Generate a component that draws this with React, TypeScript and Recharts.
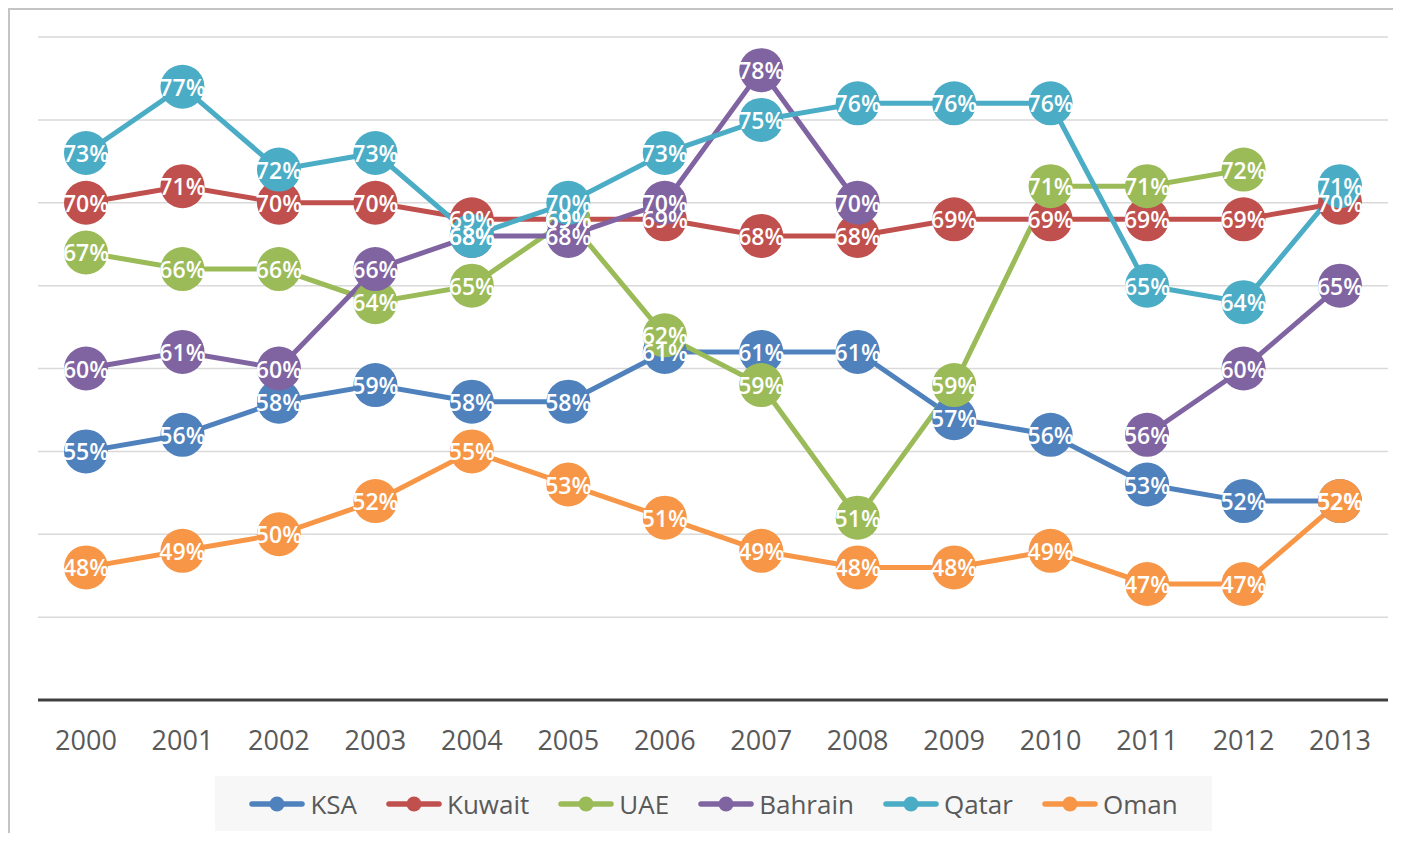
import {
  ComposedChart,
  Line,
  XAxis,
  YAxis,
  CartesianGrid,
  Legend,
  LabelList,
} from "recharts";

const years = ["2000", "2001", "2002", "2003", "2004", "2005", "2006", "2007", "2008", "2009", "2010", "2011", "2012", "2013"];
const ksa = [55, 56, 58, 59, 58, 58, 61, 61, 61, 57, 56, 53, 52, 52];
const kuwait = [70, 71, 70, 70, 69, 69, 69, 68, 68, 69, 69, 69, 69, 70];
const uae = [67, 66, 66, 64, 65, 69, 62, 59, 51, 59, 71, 71, 72, null];
const bahrain = [60, 61, 60, 66, 68, 68, 70, 78, 70, null, null, 56, 60, 65];
const qatar = [73, 77, 72, 73, 68, 70, 73, 75, 76, 76, 76, 65, 64, 71];
const oman = [48, 49, 50, 52, 55, 53, 51, 49, 48, 48, 49, 47, 47, 52];
const yTicks = [40, 45, 50, 55, 60, 65, 70, 75, 80];

const series = [
  { key: "KSA", values: ksa, color: "#4F81BD" },
  { key: "Kuwait", values: kuwait, color: "#C0504D" },
  { key: "UAE", values: uae, color: "#9BBB59" },
  { key: "Bahrain", values: bahrain, color: "#8064A2" },
  { key: "Qatar", values: qatar, color: "#4BACC6" },
  { key: "Oman", values: oman, color: "#F79646" },
];
const seriesOrder = series.map(s => s.key);

const data = years.map((year, i) => {
  const row: Record<string, string | number | null> = { year };
  series.forEach(s => { row[s.key] = s.values[i]; });
  return row;
});

const FONT = "'Open Sans', 'Noto Sans', sans-serif";

const renderLabel = (props: any) => {
  const { x, y, value } = props;
  if (value == null || x == null || y == null) return null;
  return (
    <text
      x={x}
      y={y}
      textAnchor="middle"
      dominantBaseline="central"
      fill="#ffffff"
      fontSize={23}
      fontWeight={600}
      fontFamily={FONT}
    >
      {value}%
    </text>
  );
};

const renderLegend = (props: any) => {
  const items = (props.payload || [])
    .filter((p: any) => p.type !== "none")
    .sort((a: any, b: any) => seriesOrder.indexOf(a.value) - seriesOrder.indexOf(b.value));
  return (
    <div
      style={{
        width: 997,
        height: 55,
        background: "#f7f7f7",
        display: "flex",
        alignItems: "center",
        justifyContent: "center",
        gap: 29,
        fontFamily: FONT,
        fontSize: 26,
        color: "#595959",
      }}
    >
      {items.map((it: any) => (
        <div key={it.value} style={{ display: "flex", alignItems: "center" }}>
          <svg width={56} height={16} style={{ marginRight: 5 }}>
            <line x1={3} y1={8} x2={53} y2={8} stroke={it.color} strokeWidth={5.5} strokeLinecap="round" />
            <circle cx={28} cy={8} r={7.5} fill={it.color} />
          </svg>
          <span>{it.value}</span>
        </div>
      ))}
    </div>
  );
};

export default function App() {
  return (
    <div
      style={{
        width: 1383,
        height: 823,
        borderTop: "2px solid #c4c4c4",
        borderLeft: "2px solid #c4c4c4",
        fontFamily: FONT,
      }}
    >
      <ComposedChart width={1383} height={823} data={data} margin={{ top: 27, right: 5, left: 28, bottom: 2 }}>
        <CartesianGrid vertical={false} stroke="#d9d9d9" strokeWidth={1.5} />
        <XAxis
          dataKey="year"
          padding={{ left: 48, right: 48 }}
          axisLine={{ stroke: "#404040", strokeWidth: 3 }}
          tickLine={false}
          tickSize={0}
          tickMargin={31}
          height={76}
          interval={0}
          tick={{ fill: "#595959", fontSize: 27, fontFamily: FONT }}
        />
        <YAxis hide type="number" domain={[40, 80]} ticks={yTicks} />
        <Legend
          verticalAlign="bottom"
          content={renderLegend}
          wrapperStyle={{ left: 205, bottom: 2, width: 997, height: 55 }}
        />

        {series.map(s => (
          <Line
            key={s.key}
            dataKey={s.key}
            name={s.key}
            stroke={s.color}
            strokeWidth={5}
            dot={{ r: 22, fill: s.color, stroke: s.color, strokeWidth: 0 }}
            activeDot={false}
            isAnimationActive={false}
          />
        ))}

        {/* labels drawn last so they sit above every marker, as in the original */}
        {series.map(s => (
          <Line
            key={`${s.key}-labels`}
            dataKey={s.key}
            name={`${s.key} labels`}
            stroke="none"
            dot={false}
            activeDot={false}
            legendType="none"
            isAnimationActive={false}
          >
            <LabelList dataKey={s.key} content={renderLabel} />
          </Line>
        ))}
      </ComposedChart>
    </div>
  );
}
